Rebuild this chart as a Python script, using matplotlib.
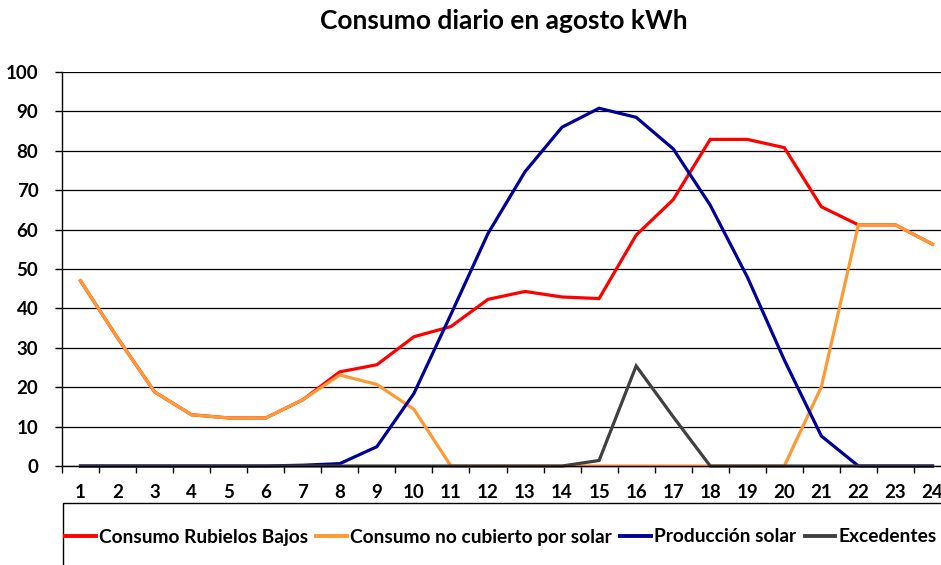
import matplotlib
matplotlib.use("Agg")
import matplotlib.pyplot as plt
from matplotlib.patches import Rectangle
from matplotlib.ticker import FixedLocator

hours = list(range(1, 25))
consumo = [47.0, 32.5, 18.8, 13.0, 12.2, 12.2, 16.8, 23.9, 25.7, 32.8, 35.4, 42.3,
           44.3, 42.9, 42.5, 58.6, 67.6, 82.9, 82.9, 80.8, 65.8, 61.2, 61.2, 56.3]
no_cubierto = [47.0, 32.5, 18.8, 13.0, 12.2, 12.2, 16.8, 23.1, 20.7, 14.4, 0, 0,
               0, 0, 0, 0, 0, 0, 0, 0, 20.1, 61.2, 61.2, 56.3]
solar = [0, 0, 0, 0, 0, 0, 0.2, 0.6, 4.9, 18.4, 38.5, 59.0,
         74.7, 86.0, 90.8, 88.5, 80.5, 66.2, 48.0, 26.9, 7.6, 0, 0, 0]
excedentes = [0, 0, 0, 0, 0, 0, 0, 0, 0, 0, 0, 0,
              0, 0, 1.4, 25.4, 12.5, 0, 0, 0, 0, 0, 0, 0]
yticks = list(range(0, 101, 10))
title = "Consumo diario en agosto kWh"
labels = ["Consumo Rubielos Bajos", "Consumo no cubierto por solar",
          "Producción solar", "Excedentes"]
colors = ["#FF0000", "#FF9933", "#000099", "#404040"]

plt.rcParams['font.family'] = ['Lato', 'DejaVu Sans']
plt.rcParams['font.weight'] = 'bold'

W, H = 941, 565
fig = plt.figure(figsize=(W / 100, H / 100), dpi=100)
left, right, top, bottom = 62, 951, 72, 466
ax = fig.add_axes([left / W, 1 - bottom / H, (right - left) / W, (bottom - top) / H])

series = [consumo, no_cubierto, solar, excedentes]
handles = []
for vals, c, lab in zip(series, colors, labels):
    h, = ax.plot(hours, vals, color=c, lw=2.3, label=lab, solid_joinstyle='miter', clip_on=False)
    handles.append(h)

ax.set_xlim(0.5, 24.5)
ax.set_ylim(0, 100)
ax.set_yticks(yticks)
ax.set_xticks(hours)
ax.xaxis.set_minor_locator(FixedLocator([h + 0.5 for h in range(0, 25)]))
ax.tick_params(axis='x', which='major', length=0, pad=13, labelsize=13.5)
ax.tick_params(axis='x', which='minor', length=5, width=1, direction='out')
ax.tick_params(axis='y', length=5, width=1, direction='out', pad=12, labelsize=13.5)
for lab in ax.get_xticklabels() + ax.get_yticklabels():
    lab.set_fontweight('bold')
ax.grid(axis='y', color='black', lw=0.9)
ax.set_axisbelow(True)
for s in ['top', 'right']:
    ax.spines[s].set_visible(False)
ax.spines['left'].set_linewidth(1.0)
ax.spines['bottom'].set_linewidth(1.0)

fig.text(504 / W, 1 - 21 / H, title, ha='center', va='center', fontsize=19, fontweight='bold')

fig.add_artist(Rectangle((63 / W, -0.2), 1.0, 1.2 - 503 / H, transform=fig.transFigure,
                         fill=False, edgecolor='black', lw=1.0))
leg = fig.legend(handles=handles, labels=labels, loc='center left',
                 bbox_to_anchor=(65 / W, 1 - 537 / H), ncol=4, frameon=False,
                 handlelength=1.6, handletextpad=0.15, columnspacing=0.45,
                 borderpad=0, borderaxespad=0, prop={'size': 13.8, 'weight': 'bold'})
for l in leg.get_lines():
    l.set_linewidth(2.8)

fig.savefig("out.png", dpi=100)
